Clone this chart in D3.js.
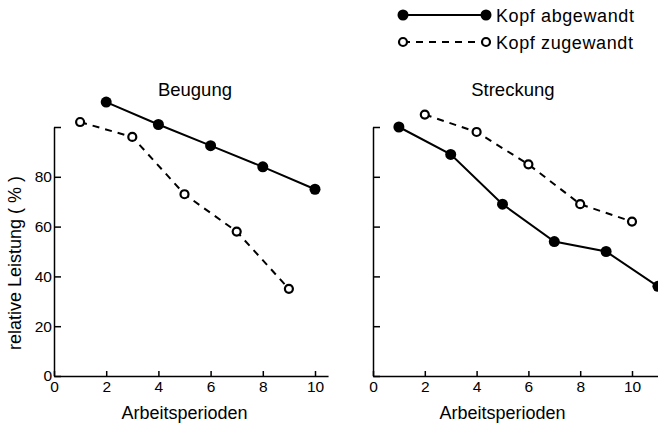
<!DOCTYPE html>
<html>
<head>
<meta charset="utf-8">
<script src="https://cdn.jsdelivr.net/npm/d3@7"></script>
<style>
  body { margin: 0; background: #fff; }
  svg { display: block; font-family: 'Liberation Sans', Arial, sans-serif; }
  .axis path, .axis line { stroke: #000; stroke-width: 1.5; }
  .axis text { font-size: 15.5px; fill: #000; }
</style>
</head>
<body>
<svg width="658" height="426"></svg>
<script>
// Arbeitsperioden (x) and relative Leistung in % (y)
const beugAbX = [2, 4, 6, 8, 10]
const beugAb = [110, 101, 92.5, 84, 75]
const beugZuX = [1, 3, 5, 7, 9]
const beugZu = [102, 96, 73, 58, 35]

const streckAbX = [1, 3, 5, 7, 9, 11]
const streckAb = [100, 89, 69, 54, 50, 36]
const streckZuX = [2, 4, 6, 8, 10]
const streckZu = [105, 98, 85, 69, 62]

const xTicks = [0, 2, 4, 6, 8, 10]
const yTicks = [0, 20, 40, 60, 80, 100]

const field = d3.select('svg')

const panels = [
  { title: 'Beugung', left: 54, xMax: 10.5, unit: 26.1, ab: [beugAbX, beugAb], zu: [beugZuX, beugZu], yLabels: true },
  { title: 'Streckung', left: 373, xMax: 11.3, unit: 25.9, ab: [streckAbX, streckAb], zu: [streckZuX, streckZu], yLabels: false }
]

let yScale = d3.scaleLinear().domain([0, 100]).range([376, 127])

panels.forEach(p => {
  let xScale = d3.scaleLinear().domain([0, p.xMax]).range([p.left, p.left + p.xMax * p.unit])
  let g = field.append('g')

  g.append('g')
    .attr('class', 'axis')
    .attr('transform', 'translate(0, 376)')
    .call(d3.axisBottom(xScale).tickValues(xTicks).tickSizeInner(-5).tickSizeOuter(0).tickPadding(5))
    .call(a => a.selectAll('text').attr('font-family', null))

  g.append('g')
    .attr('class', 'axis')
    .attr('transform', `translate(${p.left}, 0)`)
    .call(d3.axisLeft(yScale).tickValues(yTicks).tickSizeInner(-7).tickSizeOuter(0).tickPadding(2)
      .tickFormat(d => (p.yLabels && d < 100) ? d : ''))
    .call(a => a.selectAll('text').attr('font-family', null))

  g.append('text')
    .text(p.title)
    .attr('x', xScale(5.4))
    .attr('y', 96)
    .attr('text-anchor', 'middle')
    .attr('font-size', 18.5)

  g.append('text')
    .text('Arbeitsperioden')
    .attr('x', xScale(5))
    .attr('y', 419)
    .attr('text-anchor', 'middle')
    .attr('font-size', 18)

  let pts = (xs, ys) => xs.map((x, i) => [xScale(x), yScale(ys[i])])
  let line = d3.line()

  g.append('path')
    .attr('d', line(pts(p.ab[0], p.ab[1])))
    .attr('fill', 'none')
    .attr('stroke', '#000')
    .attr('stroke-width', 2)

  g.append('path')
    .attr('d', line(pts(p.zu[0], p.zu[1])))
    .attr('fill', 'none')
    .attr('stroke', '#000')
    .attr('stroke-width', 2)
    .attr('stroke-dasharray', '7,6')

  g.selectAll('circle.ab')
    .data(pts(p.ab[0], p.ab[1]))
    .enter()
    .append('circle')
    .attr('class', 'ab')
    .attr('cx', d => d[0])
    .attr('cy', d => d[1])
    .attr('r', 5.5)
    .attr('fill', '#000')

  g.selectAll('circle.zu')
    .data(pts(p.zu[0], p.zu[1]))
    .enter()
    .append('circle')
    .attr('class', 'zu')
    .attr('cx', d => d[0])
    .attr('cy', d => d[1])
    .attr('r', 4)
    .attr('fill', '#fff')
    .attr('stroke', '#000')
    .attr('stroke-width', 2.2)
})

field
  .append('text')
  .text('relative Leistung ( % )')
  .attr('transform', 'translate(21, 263) rotate(-90)')
  .attr('text-anchor', 'middle')
  .attr('font-size', 18)

// legend
let legend = [
  { label: 'Kopf abgewandt', y: 15, filled: true },
  { label: 'Kopf zugewandt', y: 42, filled: false }
]
legend.forEach(l => {
  let lg = field.append('g')
  lg.append('line')
    .attr('x1', 403).attr('x2', 486)
    .attr('y1', l.y).attr('y2', l.y)
    .attr('stroke', '#000')
    .attr('stroke-width', 2)
    .attr('stroke-dasharray', l.filled ? null : '7,6')
  ;[403, 486].forEach(cx => {
    lg.append('circle')
      .attr('cx', cx).attr('cy', l.y)
      .attr('r', l.filled ? 5.5 : 4)
      .attr('fill', l.filled ? '#000' : '#fff')
      .attr('stroke', l.filled ? null : '#000')
      .attr('stroke-width', 2.2)
  })
  lg.append('text')
    .text(l.label)
    .attr('x', 496)
    .attr('y', l.y + 6.5)
    .attr('font-size', 18)
    .attr('letter-spacing', 0.6)
})
</script>
</body>
</html>
